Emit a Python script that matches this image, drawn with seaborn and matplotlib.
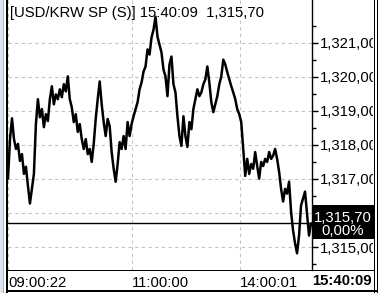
import numpy as np
import pandas as pd
import matplotlib
matplotlib.use("Agg")
import matplotlib.pyplot as plt
from matplotlib.patches import Rectangle
import seaborn as sns

# ---- data ----
title_text = "[USD/KRW SP (S)] 15:40:09  1,315,70"
prices = [
    1317.01, 1318.17, 1318.78, 1318.17, 1317.88, 1318.03, 1317.53, 1317.73, 1317.15, 1317.36,
    1316.80, 1316.28, 1316.71, 1317.15, 1318.61, 1319.34, 1318.81, 1319.05, 1318.52, 1318.90,
    1318.70, 1319.34, 1319.72, 1319.19, 1319.48, 1319.34, 1319.63, 1319.40, 1319.78, 1319.57,
    1320.01, 1319.34, 1319.10, 1318.67, 1318.90, 1318.38, 1318.61, 1318.17, 1317.88, 1318.17,
    1317.73, 1317.88, 1317.50, 1318.03, 1318.76, 1319.34, 1319.86, 1319.19, 1318.67, 1318.26,
    1318.76, 1318.55, 1317.79, 1317.30, 1316.92, 1317.44, 1318.08, 1317.88, 1318.26, 1317.88,
    1318.67, 1318.26, 1318.61, 1318.84, 1319.05, 1319.25, 1319.63, 1319.83, 1320.15, 1320.30,
    1320.80, 1320.65, 1321.15, 1321.38, 1321.76, 1321.17, 1320.94, 1320.71, 1320.21, 1320.01,
    1319.43, 1320.36, 1320.59, 1319.78, 1319.54, 1318.84, 1318.26, 1317.97, 1318.84, 1318.26,
    1317.94, 1318.67, 1318.46, 1319.05, 1319.34, 1319.63, 1319.43, 1319.54, 1319.78, 1319.92,
    1320.30, 1319.83, 1319.25, 1318.96, 1319.19, 1319.43, 1319.78, 1320.01, 1320.50, 1320.36,
    1320.13, 1319.92, 1319.72, 1319.54, 1319.34, 1319.05, 1318.90, 1318.67, 1317.88, 1317.09,
    1317.59, 1317.15, 1317.44, 1317.30, 1317.79, 1317.38, 1317.01, 1317.50, 1317.38, 1317.59,
    1317.50, 1317.79, 1317.59, 1317.68, 1317.88, 1317.59, 1317.21, 1316.71, 1316.34, 1316.71,
    1316.57, 1316.92, 1316.04, 1315.49, 1315.11, 1314.82, 1315.34, 1316.22, 1316.42, 1316.63,
    1315.99, 1315.34, 1315.70,
]
price_ticks = [1315, 1316, 1317, 1318, 1319, 1320, 1321]
hidden_price_label = 1316  # covered by the current-price box in the reference
time_labels = ["09:00:22", "11:00:00", "14:00:01"]
time_label_idx = [0, 62, 116.5]
current_time = "15:40:09"
current_price = prices[-1]
change_pct = 0.00


def fmt(v):
    return f"{v:,.2f}".replace(".", ",")


df = pd.DataFrame({"tick": np.arange(len(prices)), "price": prices})

sns.set_style("white")
plt.rcParams["font.family"] = ["Liberation Sans", "DejaVu Sans"]
FS = 10.7

W, H = 378, 293
fig = plt.figure(figsize=(W / 100, H / 100), dpi=100)
fig.patch.set_facecolor("white")

# main plot area: x 8..312, y 0..270
ax = fig.add_axes([8 / W, (H - 270) / H, 304 / W, 270 / H])
ax.set_facecolor("white")
sns.lineplot(data=df, x="tick", y="price", ax=ax, color="black", lw=1.8)
ax.axhline(current_price, color="black", lw=1.0)

ax.set_xlim(0, 152.5)
ax.set_ylim(1314.33, 1322.25)

ax.yaxis.tick_right()
ax.set_yticks(price_ticks)
ax.set_yticklabels(["" if v == hidden_price_label else fmt(v) for v in price_ticks],
                   fontsize=FS)
ax.set_yticks(np.arange(1314.5, 1322.0, 1.0), minor=True)
ax.tick_params(axis="y", which="major", direction="out", length=4, width=1,
               color="black", pad=2, labelcolor="black")
ax.tick_params(axis="y", which="minor", direction="out", length=3, width=1,
               color="black", right=True, left=False)

ax.set_xticks(time_label_idx)
ax.set_xticklabels(time_labels, fontsize=FS, ha="left")
ax.tick_params(axis="x", length=0, pad=4, labelcolor="black")
ax.set_xlabel("")
ax.set_ylabel("")

ax.grid(True, which="major", color="#c4c4c4", linestyle=(0, (3, 3)), lw=0.8)
ax.set_axisbelow(True)
for s in ["left", "top", "bottom"]:
    ax.spines[s].set_visible(False)
ax.spines["right"].set_visible(True)
ax.spines["right"].set_color("black")
ax.spines["right"].set_linewidth(1.0)

ax.text(2 / 304, 1 - 12.5 / 270, title_text, transform=ax.transAxes,
        fontsize=FS, va="center", ha="left", color="black")

# overlay decorations in pixel coords
ov = fig.add_axes([0, 0, 1, 1], zorder=10)
ov.set_xlim(0, W)
ov.set_ylim(H, 0)
ov.axis("off")
ov.patch.set_alpha(0)

# left strip
ov.add_patch(Rectangle((0, 0), 3.2, H, color="#dde3ef", lw=0))
ov.add_patch(Rectangle((3.2, 0), 1.0, H, color="#a9b0c0", lw=0))
# right clip + frame
ov.add_patch(Rectangle((373.2, 0), W - 373.2, H, color="white", lw=0))
ov.add_patch(Rectangle((373.5, 0), 1.4, H, color="black", lw=0))
ov.add_patch(Rectangle((376.5, 0), 2.0, H, color="black", lw=0))
# left frame
ov.add_patch(Rectangle((6.0, 0), 2.0, H, color="black", lw=0))
# bottom frame
ov.add_patch(Rectangle((6.0, 289.5), W - 6.0, 2.5, color="black", lw=0))
# axis bottom line extended
ov.add_patch(Rectangle((7.0, 269.5), 366.5, 1.2, color="black", lw=0))

# current price box
ov.add_patch(Rectangle((312.5, 205), 61, 34, color="black", lw=0))
ov.text(343, 217.5, fmt(current_price), color="white", fontsize=FS,
        ha="center", va="center")
ov.text(343, 231, f"{change_pct:.2f}%".replace(".", ","), color="white",
        fontsize=FS, ha="center", va="center")

# current time label
ov.text(371.5, 281, current_time, color="black", fontsize=FS,
        fontweight="bold", ha="right", va="center")

fig.savefig("out.png", dpi=100)
